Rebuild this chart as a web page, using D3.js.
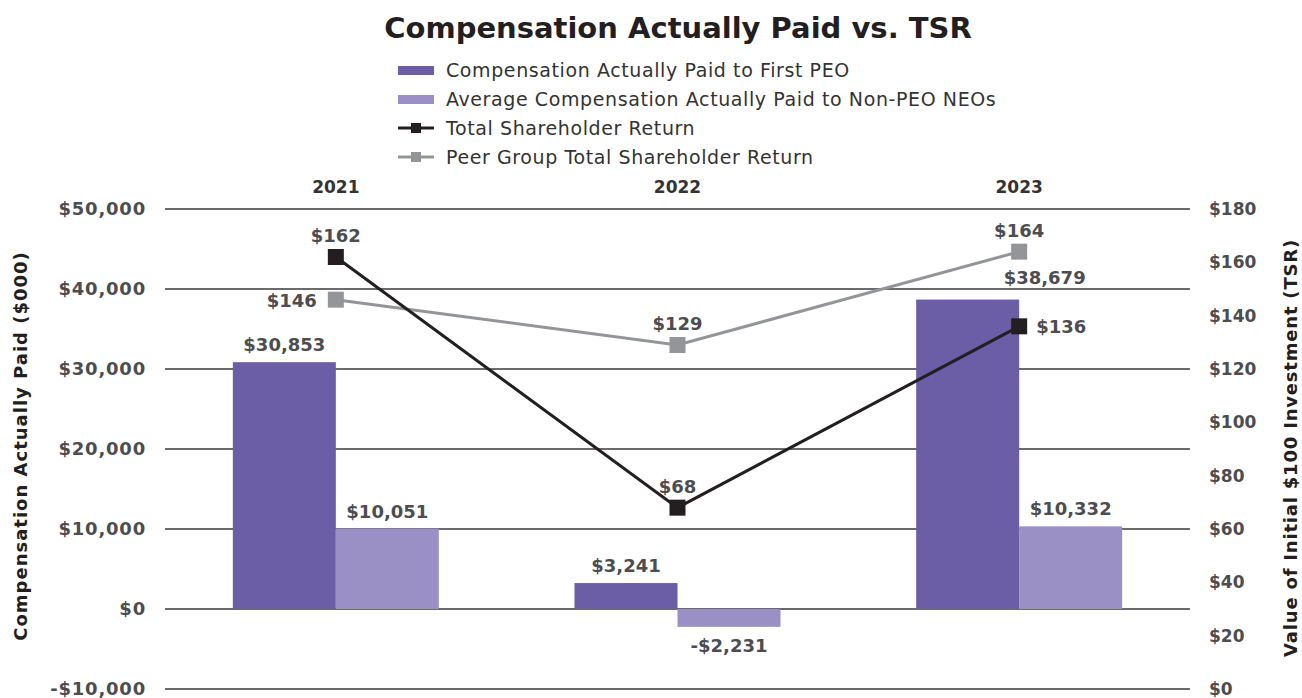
<!DOCTYPE html>
<html lang="en">
<head>
  <meta charset="UTF-8">
  <title>Compensation Actually Paid vs. TSR</title>
  <style>
    body { margin: 0; background: #fff; }
    svg text { font-family: "DejaVu Sans", sans-serif; }
  </style>
</head>
<body>
<div id="chart"></div>
<script src="https://cdn.jsdelivr.net/npm/d3@7"></script>
<script>
  const years = ["2021", "2022", "2023"];
  const peoCap = [30853, 3241, 38679];
  const neoCap = [10051, -2231, 10332];
  const tsr = [162, 68, 136];
  const peerTsr = [146, 129, 164];
  const leftTicks = [-10000, 0, 10000, 20000, 30000, 40000, 50000];
  const rightTicks = [0, 20, 40, 60, 80, 100, 120, 140, 160, 180];

  const W = 1302, H = 698;
  const margin = {top: 209, right: 112, bottom: 9, left: 165};
  const width = W - margin.left - margin.right,
    height = H - margin.top - margin.bottom;

  const purple = "#6b5ea6", lilac = "#9b90c5", black = "#231f20", grey = "#939598", labelGrey = "#4d4d4f";

  const svg = d3.select("#chart").append("svg")
    .attr("width", W)
    .attr("height", H);

  // title
  svg.append("text")
    .attr("x", 678).attr("y", 38)
    .attr("text-anchor", "middle")
    .attr("font-size", 29).attr("font-weight", "bold")
    .attr("fill", black)
    .text("Compensation Actually Paid vs. TSR");

  // legend
  const legendItems = [
    {label: "Compensation Actually Paid to First PEO", type: "bar", color: purple},
    {label: "Average Compensation Actually Paid to Non-PEO NEOs", type: "bar", color: lilac},
    {label: "Total Shareholder Return", type: "line", color: black},
    {label: "Peer Group Total Shareholder Return", type: "line", color: grey}
  ];
  const legend = svg.append("g").attr("transform", "translate(398,70)");
  legendItems.forEach((d, i) => {
    const g = legend.append("g").attr("transform", "translate(0," + (i * 29) + ")");
    if (d.type === "bar") {
      g.append("rect").attr("x", 0).attr("y", -4).attr("width", 36).attr("height", 9).attr("fill", d.color);
    } else {
      g.append("line").attr("x1", 0).attr("x2", 36).attr("y1", 0).attr("y2", 0)
        .attr("stroke", d.color).attr("stroke-width", 3);
      g.append("rect").attr("x", 13).attr("y", -5).attr("width", 10).attr("height", 10).attr("fill", d.color);
    }
    g.append("text").attr("x", 48).attr("y", 6.5)
      .attr("font-size", 19).attr("letter-spacing", 0.6).attr("fill", "#333")
      .text(d.label);
  });

  const chart = svg.append("g")
    .attr("transform", "translate(" + margin.left + "," + margin.top + ")");

  const x = d3.scaleBand().domain(years).range([0, width]);
  const xInner = d3.scaleBand().domain(["peo", "neo"]).range([0, 206]);
  const yLeft = d3.scaleLinear().domain([-10000, 50000]).range([height, 0]);
  const yRight = d3.scaleLinear().domain([0, 180]).range([height, 0]);

  // gridlines
  chart.append("g")
    .selectAll("line")
    .data(leftTicks)
    .join("line")
    .attr("x1", 0).attr("x2", width)
    .attr("y1", d => yLeft(d)).attr("y2", d => yLeft(d))
    .attr("stroke", "#3a3a3a").attr("stroke-width", 1.3);

  // left axis
  const leftAxis = chart.append("g")
    .call(d3.axisLeft(yLeft).tickValues(leftTicks).tickSize(0).tickPadding(19)
      .tickFormat(d => (d < 0 ? "-$" : "$") + d3.format(",")(Math.abs(d))));
  leftAxis.select(".domain").remove();
  leftAxis.selectAll("text")
    .attr("font-family", "DejaVu Sans").attr("font-size", 18).attr("letter-spacing", 0.8)
    .attr("font-weight", "bold").attr("fill", labelGrey);

  // right axis
  const rightAxis = chart.append("g")
    .attr("transform", "translate(" + width + ",0)")
    .call(d3.axisRight(yRight).tickValues(rightTicks).tickSize(0).tickPadding(19)
      .tickFormat(d => "$" + d));
  rightAxis.select(".domain").remove();
  rightAxis.selectAll("text")
    .attr("font-family", "DejaVu Sans").attr("font-size", 17).attr("font-weight", "bold").attr("fill", labelGrey);

  // year labels on top
  chart.append("g")
    .selectAll("text")
    .data(years)
    .join("text")
    .attr("x", d => x(d) + x.bandwidth() / 2)
    .attr("y", -16)
    .attr("text-anchor", "middle")
    .attr("font-size", 17).attr("font-weight", "bold").attr("fill", "#333")
    .text(d => d);

  // axis titles
  svg.append("text")
    .attr("transform", "translate(27,446) rotate(-90)")
    .attr("text-anchor", "middle")
    .attr("font-size", 18).attr("letter-spacing", 1).attr("font-weight", "bold").attr("fill", black)
    .text("Compensation Actually Paid ($000)");
  svg.append("text")
    .attr("transform", "translate(1297,448) rotate(-90)")
    .attr("text-anchor", "middle")
    .attr("font-size", 18).attr("letter-spacing", 0.8).attr("font-weight", "bold").attr("fill", black)
    .text("Value of Initial $100 Investment (TSR)");

  // bars
  const barData = years.flatMap((yr, i) => [
    {year: yr, key: "peo", value: peoCap[i], color: purple},
    {year: yr, key: "neo", value: neoCap[i], color: lilac}
  ]);
  const groupOffset = (x.bandwidth() - 206) / 2;
  const barX = d => x(d.year) + groupOffset + xInner(d.key);

  chart.append("g")
    .selectAll("rect")
    .data(barData)
    .join("rect")
    .attr("x", barX)
    .attr("width", xInner.bandwidth())
    .attr("y", d => yLeft(Math.max(0, d.value)))
    .attr("height", d => Math.abs(yLeft(d.value) - yLeft(0)))
    .attr("fill", d => d.color);

  // the 2023 first-PEO label is shifted right in the original to clear the TSR marker
  const shifted = d => d.year === "2023" && d.key === "peo";
  const money = v => (v < 0 ? "-$" : "$") + d3.format(",")(Math.abs(v));
  chart.append("g")
    .selectAll("text")
    .data(barData)
    .join("text")
    .attr("x", d => barX(d) + xInner.bandwidth() / 2 + (shifted(d) ? 77 : 0))
    .attr("y", d => d.value >= 0 ? yLeft(d.value) - (shifted(d) ? 16 : 11) : yLeft(d.value) + 25)
    .attr("text-anchor", "middle")
    .attr("font-size", 18).attr("font-weight", "bold").attr("fill", labelGrey)
    .text(d => money(d.value));

  // lines
  const cx = yr => x(yr) + x.bandwidth() / 2;
  const line = d3.line()
    .x((d, i) => cx(years[i]))
    .y(d => yRight(d));

  const series = [
    {values: peerTsr, color: grey, labelPos: ["left", "top", "top"]},
    {values: tsr, color: black, labelPos: ["top", "top", "right"]}
  ];

  series.forEach(s => {
    chart.append("path")
      .datum(s.values)
      .attr("fill", "none")
      .attr("stroke", s.color)
      .attr("stroke-width", 3)
      .attr("d", line);

    chart.append("g")
      .selectAll("rect")
      .data(s.values)
      .join("rect")
      .attr("x", (d, i) => cx(years[i]) - 8)
      .attr("y", d => yRight(d) - 8)
      .attr("width", 16).attr("height", 16)
      .attr("fill", s.color);

    chart.append("g")
      .selectAll("text")
      .data(s.values)
      .join("text")
      .attr("x", (d, i) => {
        const p = s.labelPos[i];
        return cx(years[i]) + (p === "left" ? -19 : p === "right" ? 17 : 0);
      })
      .attr("y", (d, i) => s.labelPos[i] === "top" ? yRight(d) - 15 : yRight(d) + 7)
      .attr("text-anchor", (d, i) => s.labelPos[i] === "left" ? "end" : s.labelPos[i] === "right" ? "start" : "middle")
      .attr("font-size", 18).attr("font-weight", "bold").attr("fill", labelGrey)
      .text(d => "$" + d);
  });
</script>
</body>
</html>
